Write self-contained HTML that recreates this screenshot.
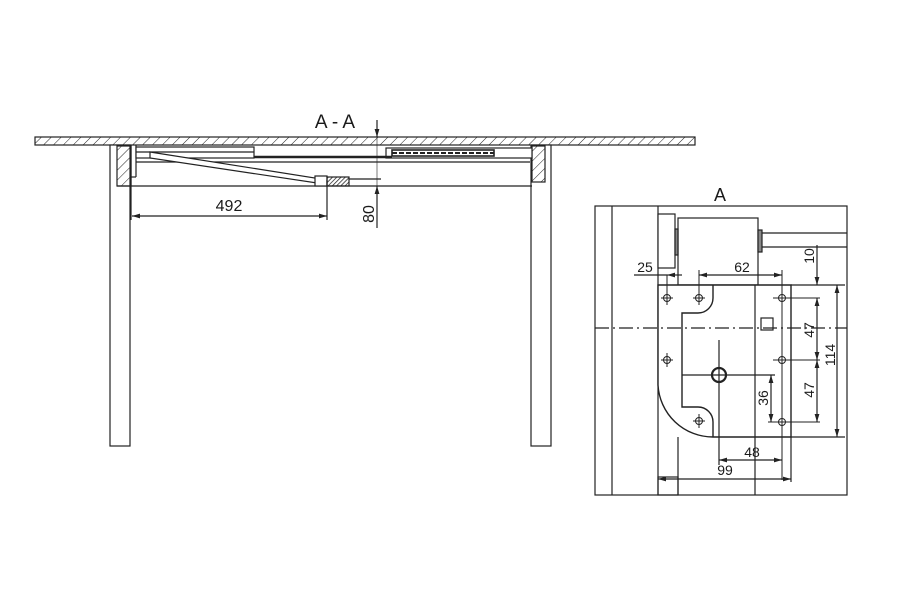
<!DOCTYPE html>
<html><head><meta charset="utf-8"><style>
html,body{margin:0;padding:0;background:#fff}
svg{display:block}
text{font-family:"Liberation Sans",sans-serif;fill:#1a1a1a}
</style></head><body>
<svg width="900" height="597" viewBox="0 0 900 597" xmlns="http://www.w3.org/2000/svg">
<defs>
<pattern id="h" width="7" height="7" patternUnits="userSpaceOnUse" patternTransform="rotate(45)">
<line x1="0" y1="0" x2="0" y2="7" stroke="#222" stroke-width="1"/>
</pattern>
<pattern id="hd" width="3" height="3" patternUnits="userSpaceOnUse" patternTransform="rotate(45)">
<line x1="0" y1="0" x2="0" y2="3" stroke="#222" stroke-width="1.5"/>
</pattern>
<marker id="ar" viewBox="0 0 10 6" refX="10" refY="3" markerWidth="8" markerHeight="5" orient="auto-start-reverse" markerUnits="userSpaceOnUse">
<path d="M0,0 L10,3 L0,6 z" fill="#222"/>
</marker>
</defs>
<g stroke="#222" stroke-width="1.2" fill="none">
<rect x="35" y="137" width="660" height="8" fill="url(#h)"/>
<rect x="110" y="145" width="20" height="301" fill="#fff"/>
<rect x="531" y="145" width="20" height="301" fill="#fff"/>
<rect x="117" y="146" width="14" height="40" fill="url(#h)"/>
<rect x="532" y="146" width="13" height="36" fill="url(#h)"/>
<line x1="117" y1="186" x2="532" y2="186"/>
<line x1="131" y1="145" x2="131" y2="220"/>
<line x1="131" y1="177" x2="136" y2="177"/>
<line x1="136" y1="145" x2="136" y2="177"/>
<rect x="136" y="147" width="118" height="11" fill="#fff"/>
<line x1="136" y1="152" x2="254" y2="152"/>
<rect x="386" y="148" width="146" height="10" fill="#fff"/>
<rect x="392" y="150" width="102" height="6" fill="#fff" stroke-width="1.6"/>
<line x1="392" y1="153" x2="494" y2="153" stroke-dasharray="5,2" stroke-width="2"/>
<line x1="254" y1="157" x2="392" y2="157" stroke-width="2.5"/>
<line x1="136" y1="162" x2="530" y2="162"/>
<polygon points="150,152 315,178 317,183 150,158" fill="#fff"/>
<rect x="315" y="176" width="12" height="10" fill="#fff"/>
<rect x="327" y="177" width="22" height="9" fill="url(#hd)"/>
<line x1="349" y1="179" x2="381" y2="179"/>
<line x1="377" y1="120" x2="377" y2="137" marker-end="url(#ar)"/>
<line x1="377" y1="228" x2="377" y2="186" marker-end="url(#ar)"/>
<line x1="377" y1="137" x2="377" y2="186" stroke-width="0.6"/>
<line x1="327" y1="180" x2="327" y2="220"/>
<line x1="132" y1="216" x2="327" y2="216" marker-start="url(#ar)" marker-end="url(#ar)"/>
</g>
<text x="335" y="128" font-size="19" text-anchor="middle">A - A</text>
<text x="229" y="211" font-size="16" text-anchor="middle">492</text>
<text font-size="16" text-anchor="middle" transform="translate(374,214) rotate(-90)">80</text>

<text x="720" y="201" font-size="18" text-anchor="middle">A</text>
<g stroke="#222" stroke-width="1.2" fill="none">
<rect x="595" y="206" width="252" height="289"/>
<line x1="612" y1="206" x2="612" y2="495"/>
<line x1="658" y1="206" x2="658" y2="495"/>
<rect x="658" y="214" width="17" height="54" fill="#fff"/>
<rect x="678" y="218" width="80" height="67" fill="#fff"/>
<rect x="675" y="229" width="3" height="26" fill="#888"/>
<rect x="758" y="230" width="4" height="22" fill="#888"/>
<line x1="762" y1="233" x2="847" y2="233"/>
<line x1="762" y1="247" x2="847" y2="247"/>
<path d="M658,285 L791,285 L791,437 L713,437 A55,55 0 0 1 658,385 Z" fill="#fff" stroke-width="1.4"/>
<path d="M713,285 L713,298 A15,15 0 0 1 698,313 L682,313 L682,407 L698,407 A15,15 0 0 1 713,422 L713,437" stroke-width="1.4"/>
<line x1="755" y1="285" x2="755" y2="495"/>
<line x1="678" y1="437" x2="678" y2="495"/>
<rect x="658" y="477" width="20" height="18"/>
<rect x="761" y="318" width="12" height="12"/>
<line x1="595" y1="328" x2="847" y2="328" stroke-dasharray="14,4,2,4"/>
<line x1="719" y1="340" x2="719" y2="465"/>
<line x1="682" y1="375" x2="775" y2="375"/>
<circle cx="719" cy="375" r="7" stroke-width="2.2"/>
<g stroke-width="1">
<circle cx="667" cy="298" r="3.5"/><circle cx="699" cy="298" r="3.5"/><circle cx="782" cy="298" r="3.5"/>
<circle cx="667" cy="360" r="3.5"/><circle cx="782" cy="360" r="3.5"/>
<circle cx="699" cy="421" r="3.5"/><circle cx="782" cy="422" r="3.5"/>
<line x1="661" y1="298" x2="673" y2="298"/><line x1="693" y1="298" x2="705" y2="298"/><line x1="773" y1="298" x2="820" y2="298"/>
<line x1="661" y1="360" x2="673" y2="360"/><line x1="773" y1="360" x2="820" y2="360"/>
<line x1="693" y1="421" x2="705" y2="421"/><line x1="768" y1="422" x2="820" y2="422"/>
<line x1="667" y1="275" x2="667" y2="305"/><line x1="699" y1="270" x2="699" y2="305"/><line x1="782" y1="270" x2="782" y2="480"/>
<line x1="667" y1="353" x2="667" y2="367"/><line x1="699" y1="414" x2="699" y2="428"/>
</g>
<line x1="634" y1="275" x2="667" y2="275"/>
<line x1="682" y1="275" x2="667" y2="275" marker-end="url(#ar)"/>
<line x1="699" y1="275" x2="782" y2="275" marker-start="url(#ar)" marker-end="url(#ar)"/>
<line x1="791" y1="285" x2="845" y2="285"/>
<line x1="791" y1="437" x2="845" y2="437"/>
<line x1="817" y1="245" x2="817" y2="285" marker-end="url(#ar)"/>
<line x1="817" y1="298" x2="817" y2="360" marker-start="url(#ar)" marker-end="url(#ar)"/>
<line x1="817" y1="360" x2="817" y2="422" marker-start="url(#ar)" marker-end="url(#ar)"/>
<line x1="837" y1="285" x2="837" y2="437" marker-start="url(#ar)" marker-end="url(#ar)"/>
<line x1="771" y1="375" x2="771" y2="422" marker-start="url(#ar)" marker-end="url(#ar)"/>
<line x1="719" y1="460" x2="782" y2="460" marker-start="url(#ar)" marker-end="url(#ar)"/>
<line x1="791" y1="437" x2="791" y2="482"/>
<line x1="658" y1="479" x2="791" y2="479" marker-start="url(#ar)" marker-end="url(#ar)"/>
</g>
<g font-size="14">
<text x="645" y="272" text-anchor="middle">25</text>
<text x="742" y="272" text-anchor="middle">62</text>
<text x="752" y="457" text-anchor="middle">48</text>
<text x="725" y="475" text-anchor="middle">99</text>
<text transform="translate(814,256) rotate(-90)" text-anchor="middle">10</text>
<text transform="translate(814,330) rotate(-90)" text-anchor="middle">47</text>
<text transform="translate(814,390) rotate(-90)" text-anchor="middle">47</text>
<text transform="translate(835,355) rotate(-90)" text-anchor="middle">114</text>
<text transform="translate(768,398) rotate(-90)" text-anchor="middle">36</text>
</g>
</svg>
</body></html>
